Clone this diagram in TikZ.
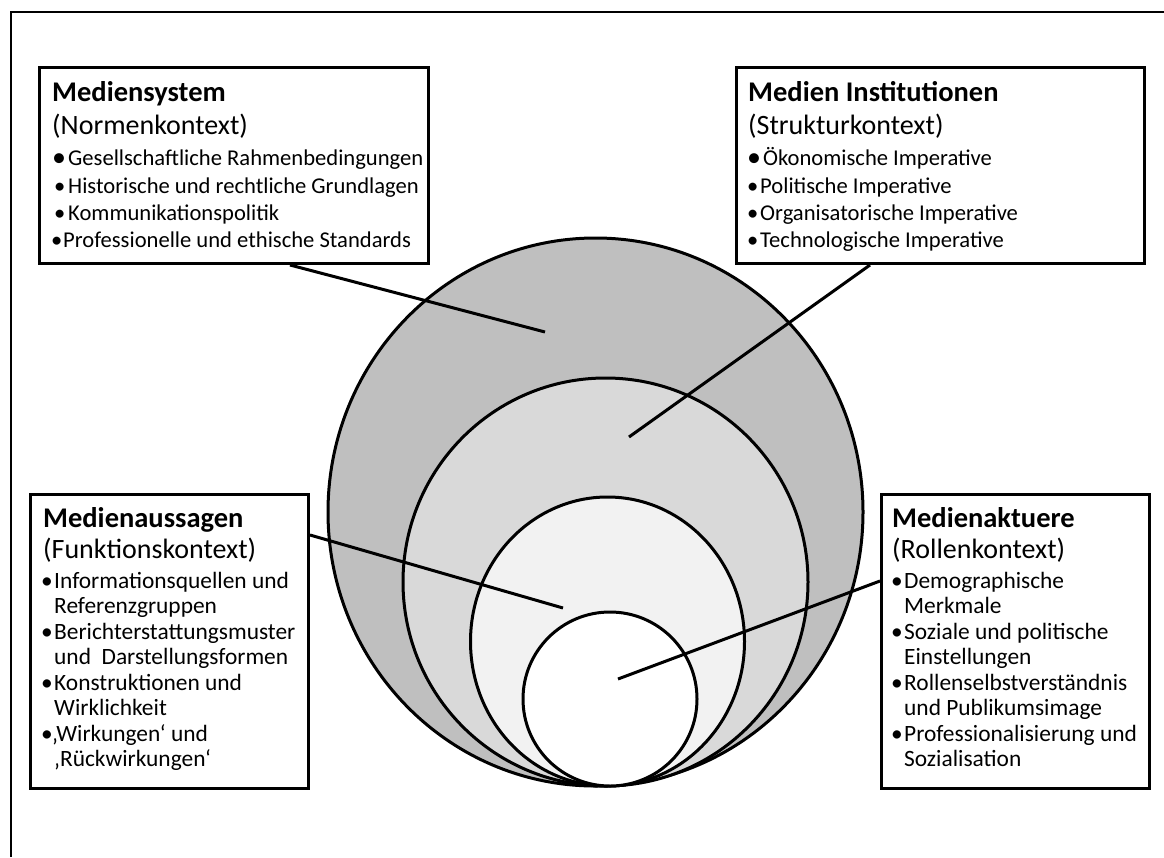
\documentclass[tikz,border=0pt]{standalone}
\usepackage{fontspec}
\setmainfont{Carlito}
\usetikzlibrary{calc}
\definecolor{ringA}{HTML}{BFBFBF}
\definecolor{ringB}{HTML}{D9D9D9}
\definecolor{ringC}{HTML}{F2F2F2}
\newcommand\bul[1]{\makebox[#1][l]{•}}
\newcommand\bigbul[1]{\makebox[#1][l]{\raisebox{-1pt}{\fontsize{28}{28}\selectfont•}}}
\begin{document}
\begin{tikzpicture}[x=1pt,y=-1pt,
  frame/.style={line width=2pt},
  kbox/.style={draw, line width=3pt, fill=white, inner sep=0pt, anchor=north west},
  ring/.style={draw, line width=3pt},
  lead/.style={line width=3pt},
  ttl/.style={anchor=base west, inner sep=0pt, font=\fontsize{28.5}{34}\selectfont\bfseries},
  subt/.style={anchor=base west, inner sep=0pt, font=\fontsize{28}{34}\selectfont},
  itm/.style={anchor=base west, inner sep=0pt, font=\fontsize{22.6}{26}\selectfont},
  itmb/.style={anchor=base west, inner sep=0pt, font=\fontsize{23.4}{26}\selectfont},
]
\useasboundingbox (0,0) rectangle (1164,857);

% outer frame (left and top edges)
\draw[frame] (11,857) -- (11,12) -- (1164,12);

% nested context rings, all touching at the bottom
\draw[ring, fill=ringA] (595.5,512) ellipse [x radius=267.5, y radius=274];
\draw[ring, fill=ringB] (605.5,582) ellipse [x radius=202.5, y radius=204];
\draw[ring, fill=ringC] (607.5,641.5) ellipse [x radius=137, y radius=144.5];
\draw[ring, fill=white] (610,699) ellipse [x radius=87, y radius=87];

% label boxes
\node[kbox, minimum width=389pt, minimum height=196pt] (sys) at (38,66) {};
\node[kbox, minimum width=408pt, minimum height=196pt] (inst) at (735,66) {};
\node[kbox, minimum width=278pt, minimum height=294pt] (auss) at (29,493) {};
\node[kbox, minimum width=268pt, minimum height=294pt] (akt) at (880,493) {};

% leader lines from the boxes into the rings
\coordinate (s1) at ([xshift=252pt]sys.south west);
\coordinate (e1) at (545,332);
\coordinate (s2) at ([xshift=135pt]inst.south west);
\coordinate (e2) at (629,437);
\coordinate (s3) at ([yshift=-42pt]auss.north east);
\coordinate (e3) at (563,608);
\coordinate (s4) at ([yshift=-88pt]akt.north west);
\coordinate (e4) at (618,679);
\draw[lead] (s1) -- (e1);
\draw[lead] (s2) -- (e2);
\draw[lead] (s3) -- (e3);
\draw[lead] (s4) -- (e4);

% Mediensystem
\node[ttl] (sysT) at (52,101) {Mediensystem};
\node[subt] (sysS) at (52,134) {(Normenkontext)};
\node[itm] (sys1) at (52,165) {\bigbul{16pt}Gesellschaftliche Rahmenbedingungen};
\node[itm] (sys2) at (54,193) {\bul{14pt}Historische und rechtliche Grundlagen};
\node[itm] (sys3) at (54,220) {\bul{14pt}Kommunikationspolitik};
\node[itm] (sys4) at (51,247) {\bul{12pt}Professionelle und ethische Standards};

% Medien Institutionen
\node[ttl] (instT) at (748,101) {Medien Institutionen};
\node[subt] (instS) at (748,134) {(Strukturkontext)};
\node[itm] (inst1) at (747,165) {\bigbul{16pt}Ökonomische Imperative};
\node[itm] (inst2) at (747,193) {\bul{13pt}Politische Imperative};
\node[itm] (inst3) at (747,220) {\bul{13pt}Organisatorische Imperative};
\node[itm] (inst4) at (747,247) {\bul{13pt}Technologische Imperative};

% Medienaussagen
\node[ttl] (aussT) at (43,527) {Medienaussagen};
\node[subt] (aussS) at (43,558) {(Funktionskontext)};
\node[itmb] (auss1) at (41,588) {\bul{13pt}Informationsquellen und};
\node[itmb] (auss2) at (54,613.5) {Referenzgruppen};
\node[itmb] (auss3) at (41,639) {\bul{13pt}Berichterstattungsmuster};
\node[itmb] (auss4) at (54,664.5) {und\ \ Darstellungsformen};
\node[itmb] (auss5) at (41,690) {\bul{13pt}Konstruktionen und};
\node[itmb] (auss6) at (54,715.5) {Wirklichkeit};
\node[itmb] (auss7) at (41,741) {\bul{11pt}‚Wirkungen‘ und};
\node[itmb] (auss8) at (54,766.5) {‚Rückwirkungen‘};

% Medienaktuere
\node[ttl] (aktT) at (892,527) {Medienaktuere};
\node[subt] (aktS) at (892,558) {(Rollenkontext)};
\node[itmb] (akt1) at (891,588) {\bul{13pt}Demographische};
\node[itmb] (akt2) at (904,613.5) {Merkmale};
\node[itmb] (akt3) at (891,639) {\bul{13pt}Soziale und politische};
\node[itmb] (akt4) at (904,664.5) {Einstellungen};
\node[itmb] (akt5) at (891,690) {\bul{13pt}Rollenselbstverständnis};
\node[itmb] (akt6) at (904,715.5) {und Publikumsimage};
\node[itmb] (akt7) at (891,741) {\bul{13pt}Professionalisierung und};
\node[itmb] (akt8) at (904,766.5) {Sozialisation};
\end{tikzpicture}
\end{document}
